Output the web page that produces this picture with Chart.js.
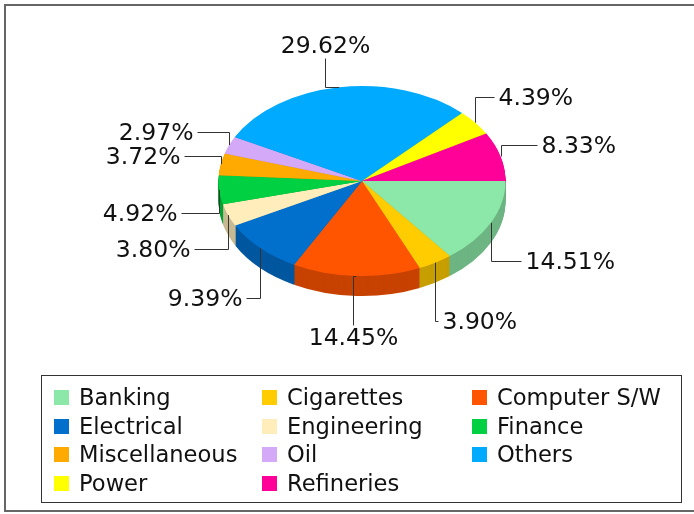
<!DOCTYPE html>
<html>
<head>
<meta charset="utf-8">
<script src="https://cdn.jsdelivr.net/npm/chart.js@4.4.1/dist/chart.umd.min.js"></script>
<style>
  html, body { margin: 0; padding: 0; background: #fff; overflow: hidden; }
  #wrap { position: relative; width: 694px; height: 514px; overflow: hidden; }
  #frame {
    position: absolute; left: 4px; top: 4px; width: 720px; height: 508px;
    border: 2px solid #666; box-sizing: border-box;
  }
  #pie { position: absolute; left: 0; top: 0; }
  #legend {
    position: absolute; left: 41px; top: 375px; width: 641px; height: 128px;
    border: 1px solid #333; box-sizing: border-box;
    font-family: "DejaVu Sans", sans-serif; font-size: 22.6px; color: #111;
  }
  .item { position: absolute; height: 24px; line-height: 24px; white-space: nowrap; }
  .box { position: absolute; left: 0; top: 4.5px; width: 15px; height: 15px; }
  .txt { position: absolute; left: 25px; top: 0; }
</style>
</head>
<body>
<div id="wrap">
  <div id="frame"></div>
  <canvas id="pie" width="694" height="514"></canvas>
  <div id="legend"></div>
</div>
<script>
const categories = [
  "Banking", "Cigarettes", "Computer S/W", "Electrical", "Engineering",
  "Finance", "Miscellaneous", "Oil", "Others", "Power", "Refineries"
];
const shares = [14.51, 3.90, 14.45, 9.39, 3.80, 4.92, 3.72, 2.97, 29.62, 4.39, 8.33];
const colors = [
  "#8ce8a8", "#ffcc00", "#ff5500", "#0070cc", "#ffeebb",
  "#00d042", "#ffaa00", "#d4aaf8", "#00aaff", "#ffff00", "#ff0099"
];

// leader line for each slice: "v" = go up/down first, "h" = sideways first
const leaders = [
  { first: "v", dy: 38, dx: 30 },
  { first: "v", dy: 58, dx: 3 },
  { first: "h", dx: -3, dy: 49 },
  { first: "v", dy: 50, dx: -14 },
  { first: "v", dy: 34, dx: -34 },
  { first: "v", dy: 23, dx: -38 },
  { first: "v", dy: -8, dx: -37 },
  { first: "v", dy: -13, dx: -32 },
  { first: "h", dx: -14, dy: -29 },
  { first: "v", dy: -26, dx: 19 },
  { first: "v", dy: -11, dx: 36 }
];

const tilt = 0.662;
const depth = 20;

function darker(hex, f) {
  const n = parseInt(hex.slice(1), 16);
  const r = Math.round(((n >> 16) & 255) * f);
  const g = Math.round(((n >> 8) & 255) * f);
  const b = Math.round((n & 255) * f);
  return `rgb(${r},${g},${b})`;
}
const sideColors = colors.map((c) => darker(c, 0.78));

const pie3d = {
  id: "pie3d",
  beforeDatasetsDraw(chart) {
    const ctx = chart.ctx;
    const arcs = chart.getDatasetMeta(0).data;
    const cx = arcs[0].x;
    const cy = arcs[0].y;
    // side wall, stacked layers
    for (let d = depth; d > 0; d--) {
      arcs.forEach((a, i) => {
        ctx.save();
        ctx.translate(cx, cy + d);
        ctx.scale(1, tilt);
        ctx.beginPath();
        ctx.moveTo(0, 0);
        ctx.arc(0, 0, a.outerRadius, a.startAngle, a.endAngle);
        ctx.closePath();
        ctx.fillStyle = sideColors[i];
        ctx.fill();
        ctx.restore();
      });
    }
    // squash the top face
    ctx.save();
    ctx.translate(cx, cy);
    ctx.scale(1, tilt);
    ctx.translate(-cx, -cy);
  },
  afterDatasetsDraw(chart) {
    const ctx = chart.ctx;
    ctx.restore();

    const arcs = chart.getDatasetMeta(0).data;
    ctx.save();
    ctx.strokeStyle = "#333";
    ctx.lineWidth = 1;
    ctx.fillStyle = "#111";
    ctx.font = '23.5px "DejaVu Sans", sans-serif';
    arcs.forEach((a, i) => {
      const mid = (a.startAngle + a.endAngle) / 2;
      const x0 = a.x + a.outerRadius * Math.cos(mid);
      const y0 = a.y + a.outerRadius * tilt * Math.sin(mid);
      const L = leaders[i];
      const text = shares[i].toFixed(2) + "%";
      ctx.beginPath();
      if (L.first === "v") {
        const x1 = Math.round(x0) + 0.5;
        const y1 = Math.round(y0 + L.dy) + 0.5;
        const x2 = x1 + L.dx;
        ctx.moveTo(x1, y0);
        ctx.lineTo(x1, y1);
        ctx.lineTo(x2, y1);
        ctx.stroke();
        ctx.textBaseline = "middle";
        ctx.textAlign = L.dx >= 0 ? "left" : "right";
        ctx.fillText(text, x2 + (L.dx >= 0 ? 4 : -4), y1 + 1);
      } else {
        const y1 = Math.round(y0) + 0.5;
        const x1 = Math.round(x0 + L.dx) + 0.5;
        const y2 = y1 + L.dy;
        ctx.moveTo(x0, y1);
        ctx.lineTo(x1, y1);
        ctx.lineTo(x1, y2);
        ctx.stroke();
        ctx.textBaseline = "middle";
        ctx.textAlign = "center";
        ctx.fillText(text, x1, y2 + (L.dy < 0 ? -12 : 13));
      }
    });
    ctx.restore();
  }
};

const chart = new Chart(document.getElementById("pie"), {
  type: "pie",
  data: {
    labels: categories,
    datasets: [
      {
        data: shares,
        backgroundColor: colors,
        borderWidth: 0,
        radius: 143.5
      }
    ]
  },
  options: {
    responsive: false,
    animation: false,
    rotation: 90,
    layout: { padding: { left: 218.5, right: 188.5, top: 37.5, bottom: 189.5 } },
    plugins: {
      legend: { display: false },
      tooltip: { enabled: false }
    }
  },
  plugins: [pie3d]
});

// legend in a box below the pie, 3 columns
const colLeft = [12, 220, 430];
const rowMid = [21, 50, 78, 107];
const legendEl = document.getElementById("legend");
const items = Chart.overrides.pie.plugins.legend.labels.generateLabels(chart);
items.forEach((it, i) => {
  const col = i % 3;
  const row = Math.floor(i / 3);
  const div = document.createElement("div");
  div.className = "item";
  div.style.left = colLeft[col] + "px";
  div.style.top = rowMid[row] - 12 + "px";
  div.innerHTML = `<span class="box" style="background:${it.fillStyle}"></span><span class="txt"></span>`;
  div.querySelector(".txt").textContent = it.text;
  legendEl.appendChild(div);
});
</script>
</body>
</html>
